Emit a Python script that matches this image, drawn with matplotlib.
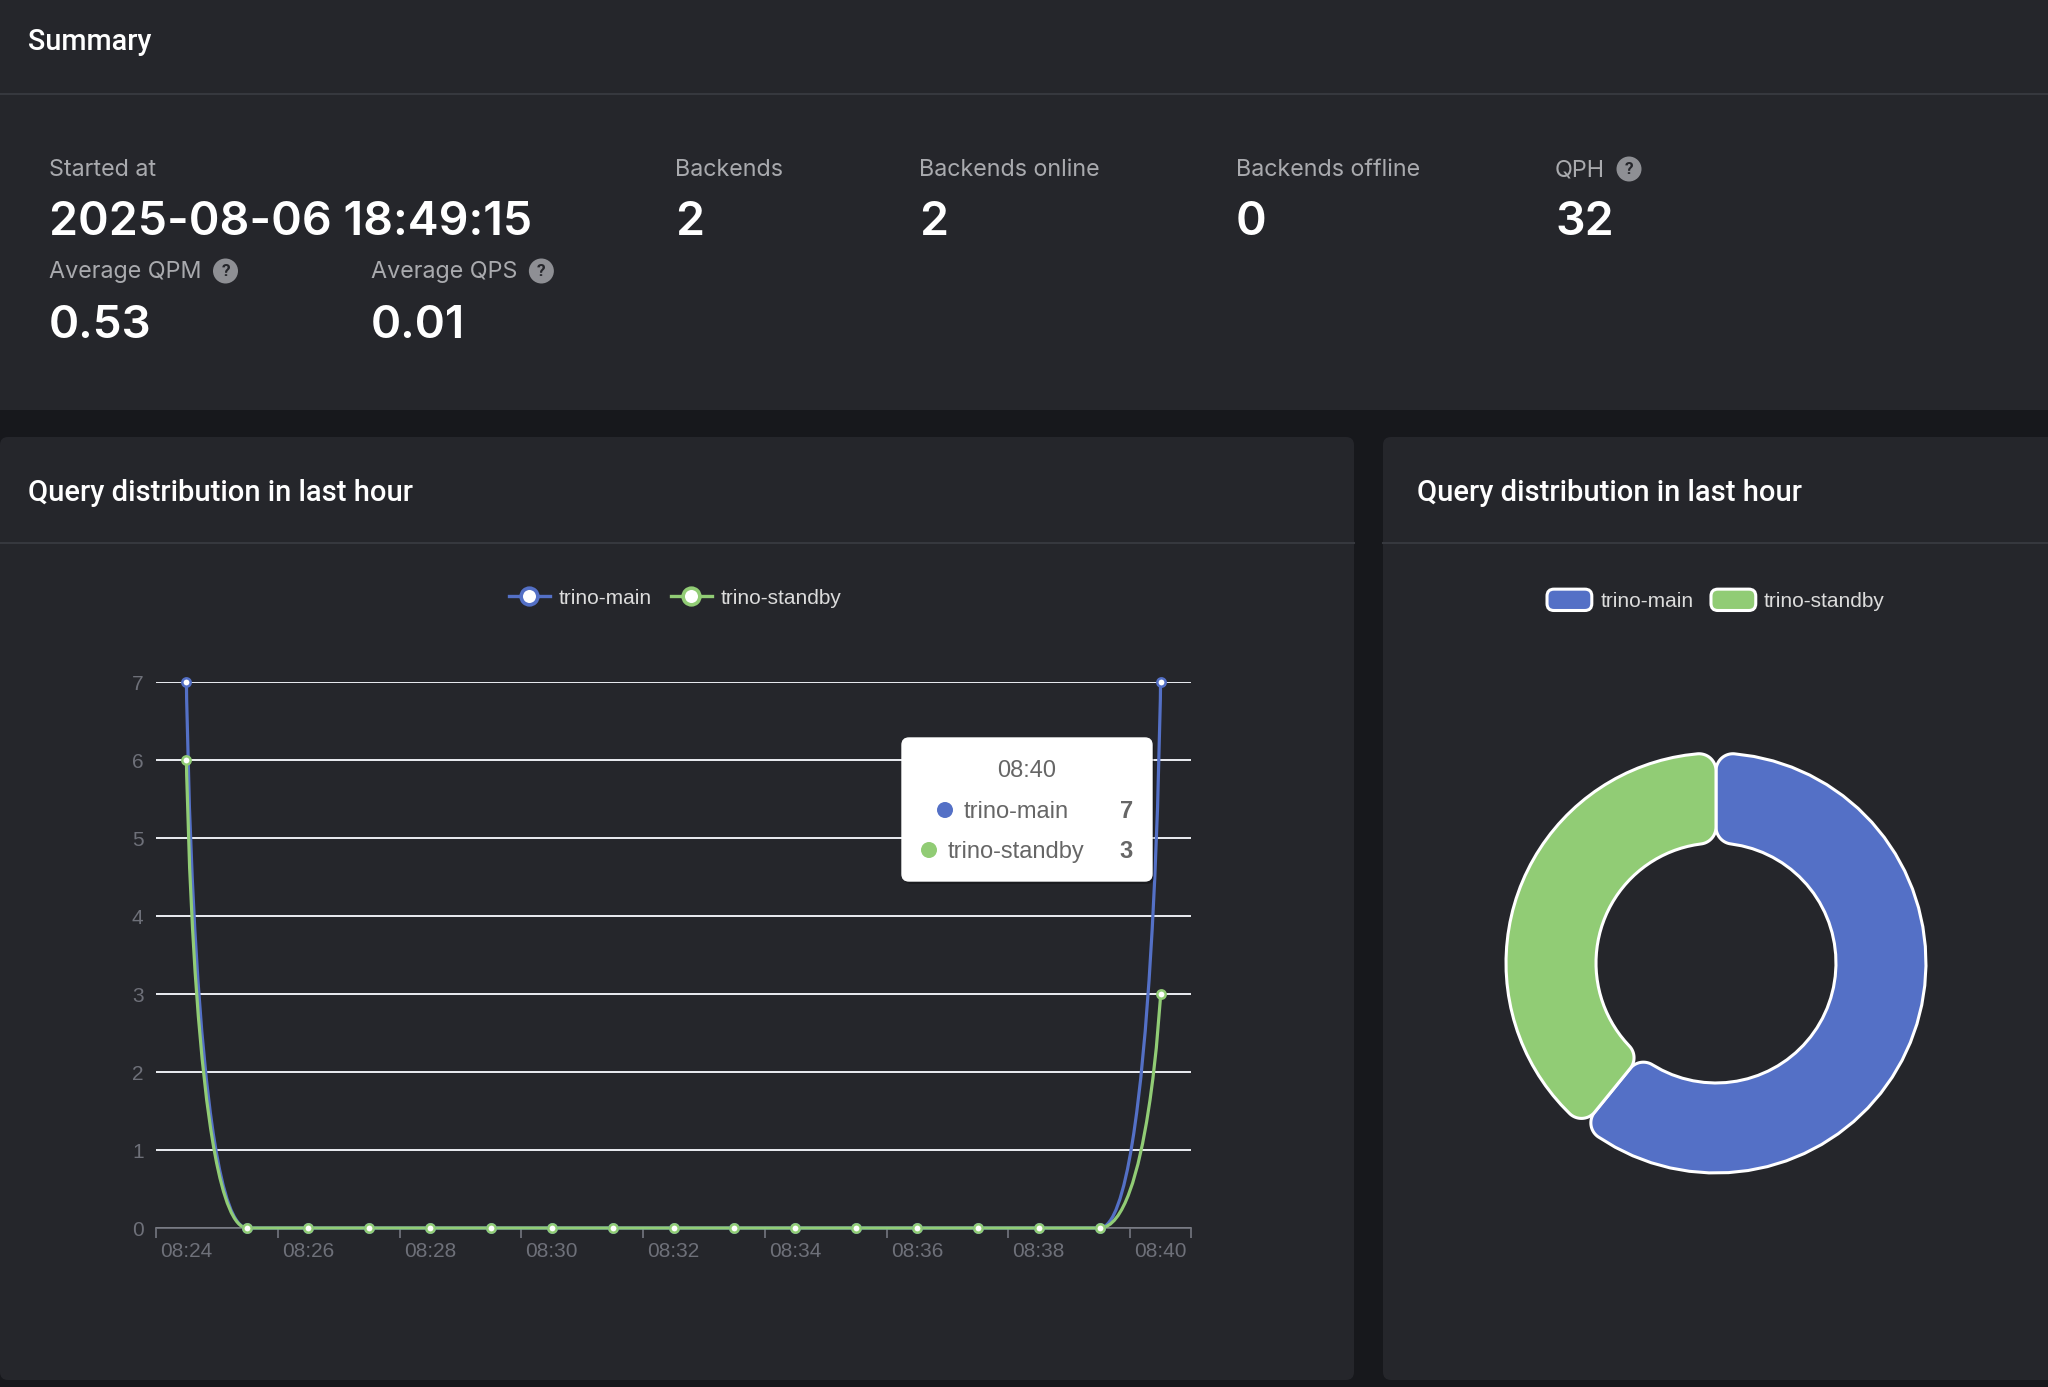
import numpy as np
import matplotlib
matplotlib.use("Agg")
import matplotlib.pyplot as plt
from matplotlib.path import Path
from matplotlib.patches import PathPatch, FancyBboxPatch, Rectangle, Circle, Patch
from matplotlib.lines import Line2D
from matplotlib.legend_handler import HandlerPatch
from matplotlib.ticker import FixedLocator

# ---- data ----
stat_labels_1 = ["Started at", "Backends", "Backends online", "Backends offline", "QPH"]
stat_values_1 = ["2025-08-06 18:49:15", "2", "2", "0", "32"]
stat_help_1 = [False, False, False, False, True]
stat_labels_2 = ["Average QPM", "Average QPS"]
stat_values_2 = ["0.53", "0.01"]
stat_help_2 = [True, True]

times = ["08:24", "08:25", "08:26", "08:27", "08:28", "08:29", "08:30", "08:31", "08:32",
         "08:33", "08:34", "08:35", "08:36", "08:37", "08:38", "08:39", "08:40"]
series_names = ["trino-main", "trino-standby"]
main_q = [7, 0, 0, 0, 0, 0, 0, 0, 0, 0, 0, 0, 0, 0, 0, 0, 7]
standby_q = [6, 0, 0, 0, 0, 0, 0, 0, 0, 0, 0, 0, 0, 0, 0, 0, 3]
colors = ["#5470c6", "#91cc75"]

W, H = 2048, 1387
PAGE = "#17181c"
CARD = "#25262b"
LINE = "#36383e"
AXC = "#6e7079"

UI = "Roboto"
NUM = "Inter"
CHART = "Liberation Sans"

fig = plt.figure(figsize=(W / 100, H / 100), dpi=100, facecolor=PAGE)

# background / dashboard frame in pixel coords
bg = fig.add_axes([0, 0, 1, 1], zorder=0)
bg.set_xlim(0, W); bg.set_ylim(H, 0); bg.axis("off")
bg.add_patch(Rectangle((0, 0), W, 410, fc=CARD, ec="none"))
bg.plot([0, W], [94, 94], color=LINE, lw=1.5)
bg.add_patch(FancyBboxPatch((0, 437), 1354, 943, boxstyle="round,pad=0,rounding_size=8", fc=CARD, ec="none"))
bg.add_patch(FancyBboxPatch((1383, 437), 700, 943, boxstyle="round,pad=0,rounding_size=8", fc=CARD, ec="none"))
bg.plot([0, 1354], [543, 543], color=LINE, lw=1.5)
bg.plot([1383, W], [543, 543], color=LINE, lw=1.5)

bg.text(28, 50, "Summary", color="white", fontsize=20.8, fontweight="medium", family=UI, va="baseline")
bg.text(28, 501, "Query distribution in last hour", color="white", fontsize=21, fontweight="medium", family=UI, va="baseline")
bg.text(1417, 501, "Query distribution in last hour", color="white", fontsize=21, fontweight="medium", family=UI, va="baseline")

renderer = fig.canvas.get_renderer()


def help_icon(ax, x, y):
    ax.add_patch(Circle((x, y), 12.5, fc="#8e8f94", ec="none"))
    ax.text(x, y + 1, "?", color=CARD, fontsize=12.5, fontweight="bold", family=UI, ha="center", va="center")


def stat_row(xs, labels, values, helps, y_lab, y_val, vsize):
    for x, lab, val, hp in zip(xs, labels, values, helps):
        t = bg.text(x, y_lab, lab, color="#a9aaae", fontsize=16.8, family=NUM, va="baseline")
        bg.text(x, y_val, val, color="white", fontsize=vsize, fontweight="semibold", family=NUM, va="baseline")
        if hp:
            bb = t.get_window_extent(renderer)
            help_icon(bg, bb.x1 + 24, y_lab - 7)


stat_row([49, 675, 919, 1236, 1555], stat_labels_1, stat_values_1, stat_help_1, 176, 235, 33.5)
stat_row([49, 371], stat_labels_2, stat_values_2, stat_help_2, 278, 338, 33)

# ---- line chart ----
L, R, B, T = 156, 1191, 1228, 682
ax = fig.add_axes([L / W, (H - B) / H, (R - L) / W, (B - T) / H], zorder=2)
ax.set_facecolor("none")
x = np.arange(len(times))
ax.set_xlim(-0.5, len(times) - 0.5)
ax.set_ylim(0, 7)
for s in ["left", "right", "top"]:
    ax.spines[s].set_visible(False)
ax.spines["bottom"].set_color(AXC)
ax.spines["bottom"].set_linewidth(1.3)
ax.set_xticks(x[::2])
ax.set_xticklabels(times[::2])
ax.xaxis.set_minor_locator(FixedLocator(np.arange(-0.5, len(times), 2).tolist() + [len(times) - 0.5]))
ax.tick_params(axis="x", which="major", length=0, pad=10, labelsize=15, labelcolor=AXC)
ax.tick_params(axis="x", which="minor", length=7, width=1.3, color=AXC)
ax.set_yticks(range(0, 8))
ax.tick_params(axis="y", length=0, pad=9, labelsize=15, labelcolor=AXC)
for lab in ax.get_xticklabels() + ax.get_yticklabels():
    lab.set_family(CHART)
ax.yaxis.grid(True, color="#eceef3", lw=1.4)
ax.set_axisbelow(True)


def smooth_path(ax, xs, ys, smooth=0.5):
    # echarts style smoothing with bbox constraint, done in display space
    p = ax.transData.transform(np.column_stack([xs, ys]).astype(float))
    verts = [p[0]]
    codes = [Path.MOVETO]
    cp0 = p[0]
    n = len(p)
    for i in range(1, n):
        px, py = p[i - 1]
        cx, cy = p[i]
        if i == n - 1:
            cp1 = p[i]
            nxt = p[i]
        else:
            nx, ny = p[i + 1]
            vx, vy = nx - px, ny - py
            lp = np.hypot(cx - px, cy - py)
            ln = np.hypot(nx - cx, ny - cy)
            ratio = ln / (ln + lp)
            ncx = np.clip(cx + vx * smooth * ratio, min(nx, cx), max(nx, cx))
            ncy = np.clip(cy + vy * smooth * ratio, min(ny, cy), max(ny, cy))
            vx, vy = ncx - cx, ncy - cy
            c1x = np.clip(cx - vx * lp / ln, min(px, cx), max(px, cx))
            c1y = np.clip(cy - vy * lp / ln, min(py, cy), max(py, cy))
            vx, vy = cx - c1x, cy - c1y
            cp1 = (c1x, c1y)
            nxt = (cx + vx * ln / lp, cy + vy * ln / lp)
        verts += [cp0, cp1, p[i]]
        codes += [Path.CURVE4] * 3
        cp0 = nxt
    verts = ax.transData.inverted().transform(np.array(verts, dtype=float))
    return Path(verts, codes)


for ys, c in zip([main_q, standby_q], colors):
    ax.add_patch(PathPatch(smooth_path(ax, x, ys), fill=False, ec=c, lw=2.3, clip_on=False, zorder=3))
    ax.plot(x, ys, "o", ms=6, mfc="white", mec=c, mew=1.8, clip_on=False, zorder=4)

lh = [Line2D([], [], color=c, lw=2.4, marker="o", ms=12, mfc="white", mew=2.6) for c in colors]
fig.legend(lh, series_names, loc="center", bbox_to_anchor=(675 / W, 1 - 598 / H), ncol=2, frameon=False,
           prop={"family": CHART, "size": 15}, labelcolor="#dcdcdc", handlelength=2.0,
           handletextpad=0.4, columnspacing=0.9)

# ---- donut ----
totals = [sum(main_q), sum(standby_q)]
cx_, cy_, R_OUT, R_IN, RC = 1716, 963, 210, 120, 17
half = 250
pax = fig.add_axes([(cx_ - half) / W, (H - cy_ - half) / H, 2 * half / W, 2 * half / H], zorder=2)
pax.set_xlim(-half, half); pax.set_ylim(-half, half); pax.axis("off")


def rounded_sector(t1, t2, ri, ro, rc, n=40):
    d_o = ro - rc
    a_o = np.degrees(np.arcsin(rc / d_o))
    d_i = ri + rc
    a_i = np.degrees(np.arcsin(rc / d_i))

    def arc(cx, cy, r, a0, a1):
        a = np.radians(np.linspace(a0, a1, n))
        return np.column_stack([cx + r * np.cos(a), cy + r * np.sin(a)])

    def pol(r, a):
        a = np.radians(a)
        return r * np.cos(a), r * np.sin(a)

    parts = []
    c = pol(d_o, t1 + a_o)
    parts.append(arc(c[0], c[1], rc, t1 - 90, t1 + a_o))
    parts.append(arc(0, 0, ro, t1 + a_o, t2 - a_o))
    c = pol(d_o, t2 - a_o)
    parts.append(arc(c[0], c[1], rc, t2 - a_o, t2 + 90))
    c = pol(d_i, t2 - a_i)
    parts.append(arc(c[0], c[1], rc, t2 + 90, t2 + 180 - a_i))
    parts.append(arc(0, 0, ri, t2 - a_i, t1 + a_i))
    c = pol(d_i, t1 + a_i)
    parts.append(arc(c[0], c[1], rc, t1 + 180 + a_i, t1 + 270))
    v = np.vstack(parts)
    return Path(np.vstack([v, v[:1]]), closed=True)


start = 90.0
for val, c in zip(totals, colors):
    span = 360.0 * val / sum(totals)
    pax.add_patch(PathPatch(rounded_sector(start - span, start, R_IN, R_OUT, RC), fc=c, ec="white", lw=2.2))
    start -= span


def round_box(legend, orig_handle, xdescent, ydescent, width, height, fontsize):
    return FancyBboxPatch((-xdescent, -ydescent), width, height, boxstyle="round,pad=0,rounding_size=5")


ph = [Patch(fc=c, ec="white", lw=2.2) for c in colors]
fig.legend(ph, series_names, loc="center", bbox_to_anchor=(1716 / W, 1 - 600 / H), ncol=2, frameon=False,
           prop={"family": CHART, "size": 15}, labelcolor="#dcdcdc", handlelength=2.15, handleheight=1.2,
           handletextpad=0.4, columnspacing=0.85, handler_map={Patch: HandlerPatch(patch_func=round_box)})

# ---- tooltip overlay ----
top = fig.add_axes([0, 0, 1, 1], zorder=10)
top.set_xlim(0, W); top.set_ylim(H, 0); top.axis("off")
top.add_patch(FancyBboxPatch((904, 741), 250, 143, boxstyle="round,pad=0,rounding_size=7", fc="black", ec="none", alpha=0.25))
top.add_patch(FancyBboxPatch((902, 738), 250, 143, boxstyle="round,pad=0,rounding_size=7", fc="white", ec="white"))
top.text(1027, 777, times[-1], color="#666666", fontsize=17, family=CHART, ha="center", va="baseline")
rows = [(945, 964, 818), (929, 948, 858)]
for (dx, tx, by), name, ys, c in zip(rows, series_names, [main_q, standby_q], colors):
    top.add_patch(Circle((dx, by - 8), 8, fc=c, ec="none"))
    top.text(tx, by, name, color="#666666", fontsize=17, family=CHART, va="baseline")
    top.text(1133, by, str(ys[-1]), color="#666666", fontsize=17, fontweight="bold", family=CHART, ha="right", va="baseline")

fig.savefig("out.png", dpi=100, facecolor=PAGE)
